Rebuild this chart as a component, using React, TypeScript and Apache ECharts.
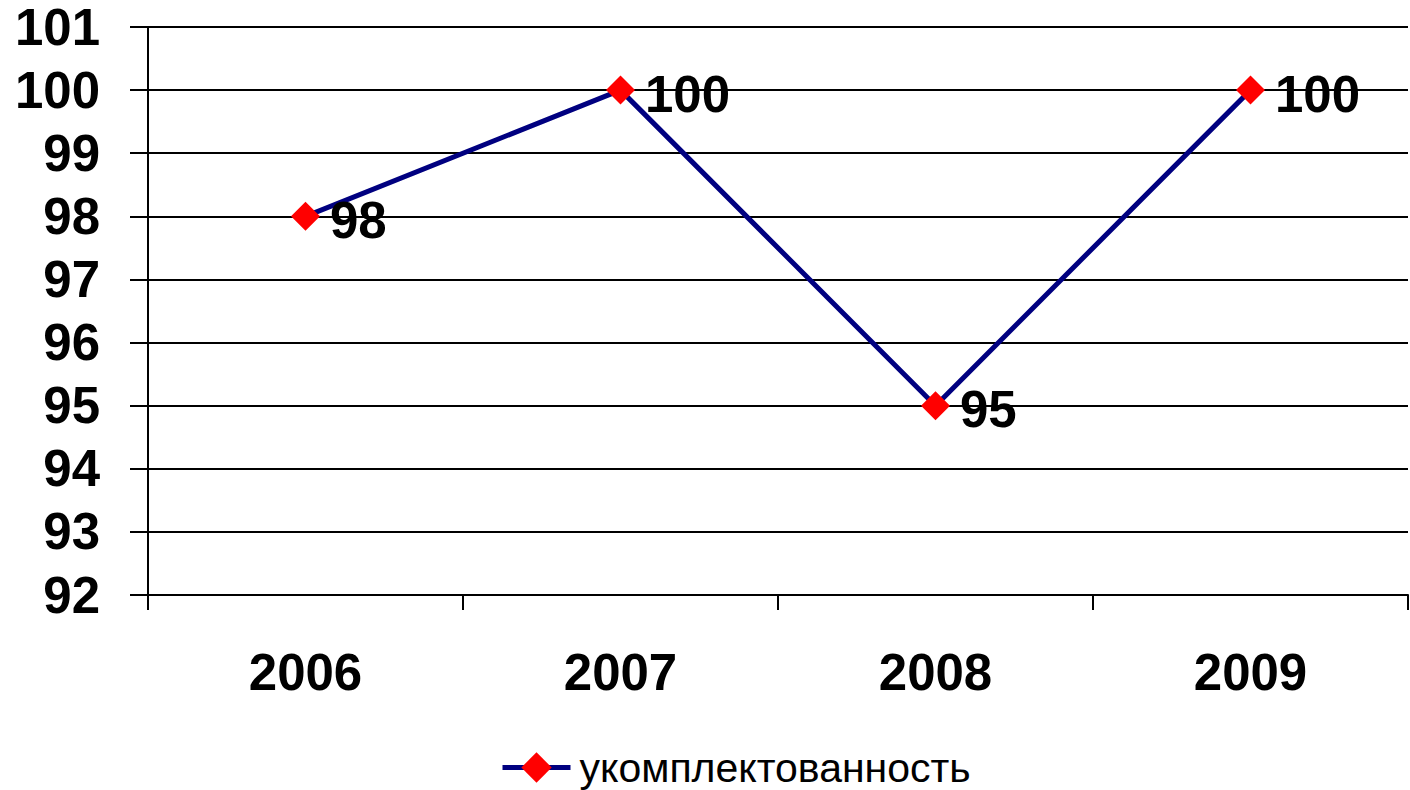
import React, { useEffect, useRef } from "react";
import * as echarts from "echarts";

const categories = ["2006", "2007", "2008", "2009"];
const values = [98, 100, 95, 100];
const seriesName = "укомплектованность";
const yMin = 92;
const yMax = 101;

export default function App() {
  const ref = useRef<HTMLDivElement>(null);
  useEffect(() => {
    if (!ref.current) return;
    const chart = echarts.init(ref.current, undefined, { renderer: "svg" });
    const font = "'Liberation Sans', Arial, sans-serif";
    chart.setOption({
      animation: false,
      backgroundColor: "#ffffff",
      textStyle: { fontFamily: font },
      grid: { left: 148, right: 2, top: 27, bottom: 195, containLabel: false },
      xAxis: {
        type: "category",
        data: categories,
        boundaryGap: true,
        axisLine: { show: true, lineStyle: { color: "#000", width: 2 } },
        axisTick: { show: true, length: 15, lineStyle: { color: "#000", width: 2 } },
        axisLabel: {
          color: "#000",
          fontSize: 51,
          fontWeight: "bold",
          fontFamily: font,
          margin: 52,
        },
        splitLine: { show: false },
      },
      yAxis: {
        type: "value",
        min: yMin,
        max: yMax,
        interval: 1,
        axisLine: { show: true, lineStyle: { color: "#000", width: 2 } },
        axisTick: { show: true, inside: false, length: 18, lineStyle: { color: "#000", width: 2 } },
        axisLabel: {
          color: "#000",
          fontSize: 51,
          lineHeight: 44,
          fontWeight: "bold",
          fontFamily: font,
          margin: 48,
          padding: [4, 0, 0, 0],
        },
        splitLine: { show: true, lineStyle: { color: "#000", width: 2 } },
      },
      legend: {
        show: true,
        top: 747,
        left: 500,
        padding: 0,
        itemWidth: 68,
        itemHeight: 38,
        itemGap: 8,
        lineStyle: { width: 5 },
        textStyle: { color: "#000", fontSize: 41, lineHeight: 40, fontFamily: font, padding: [0, 0, 0, 4] },
        data: [seriesName],
      },
      series: [
        {
          name: seriesName,
          type: "line",
          data: values,
          symbol: "diamond",
          symbolSize: 29,
          lineStyle: { color: "#000080", width: 5 },
          itemStyle: { color: "#ff0000", borderWidth: 0 },
          label: {
            show: true,
            position: "right",
            distance: 10,
            offset: [0, 4],
            color: "#000",
            fontSize: 51,
            fontWeight: "bold",
            fontFamily: font,
          },
        },
      ],
    });
    return () => chart.dispose();
  }, []);
  return <div ref={ref} style={{ width: 1410, height: 790, position: "absolute", left: 0, top: 0 }} />;
}
